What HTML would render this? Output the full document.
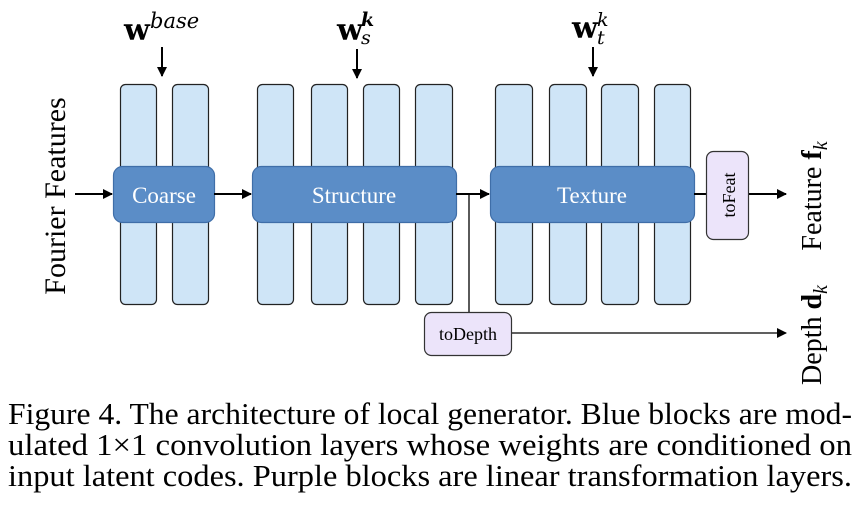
<!DOCTYPE html>
<html><head><meta charset="utf-8"><style>
html,body{margin:0;padding:0;background:#fff;}
svg{display:block;}
</style></head><body>
<svg width="861" height="518" viewBox="0 0 861 518" xmlns="http://www.w3.org/2000/svg" font-family="'Liberation Serif', serif">
<defs>
<marker id="a" markerWidth="10" markerHeight="10" refX="9" refY="5" orient="auto" markerUnits="userSpaceOnUse">
<path d="M0,0 L10,5 L0,10 z" fill="#000"/></marker>
</defs>
<g fill="#cfe5f7" stroke="#222" stroke-width="1.2">
<rect x="120.5" y="84.5" width="36" height="220" rx="5"/>
<rect x="172.5" y="84.5" width="36" height="220" rx="5"/>
<rect x="257.5" y="84.5" width="36" height="220" rx="5"/>
<rect x="311.5" y="84.5" width="36" height="220" rx="5"/>
<rect x="363.5" y="84.5" width="36" height="220" rx="5"/>
<rect x="415.5" y="84.5" width="37" height="220" rx="5"/>
<rect x="495.5" y="84.5" width="37" height="220" rx="5"/>
<rect x="549.5" y="84.5" width="37" height="220" rx="5"/>
<rect x="601.5" y="84.5" width="37" height="220" rx="5"/>
<rect x="654.5" y="84.5" width="36" height="220" rx="5"/>
</g>
<g fill="#5b8dc7" stroke="#3f6ea8" stroke-width="1.2">
<rect x="113.5" y="166.5" width="101" height="56" rx="9"/>
<rect x="252.5" y="166.5" width="204" height="56" rx="9"/>
<rect x="490.5" y="166.5" width="204" height="56" rx="9"/>
</g>
<g fill="#fff" font-size="23" text-anchor="middle" style="font-family:'Liberation Serif',serif">
<text x="164" y="203">Coarse</text>
<text x="354" y="203">Structure</text>
<text x="592" y="203">Texture</text>
</g>
<g stroke="#000" stroke-width="2" fill="none">
<line x1="75" y1="194" x2="112" y2="194" marker-end="url(#a)"/>
<line x1="214" y1="194" x2="251" y2="194" marker-end="url(#a)"/>
<line x1="456" y1="194" x2="489" y2="194" marker-end="url(#a)"/>
<line x1="694" y1="194" x2="706" y2="194"/>
<line x1="748" y1="194" x2="786" y2="194" marker-end="url(#a)"/>
<line x1="162" y1="47" x2="162" y2="76" marker-end="url(#a)"/>
<line x1="357" y1="49" x2="357" y2="78" marker-end="url(#a)"/>
<line x1="593" y1="47" x2="593" y2="76" marker-end="url(#a)"/>
</g>
<g stroke="#000" stroke-width="1.3" fill="none">
<line x1="469" y1="194" x2="469" y2="312"/>
<line x1="511" y1="333" x2="786" y2="333" marker-end="url(#a)"/>
</g>
<g fill="#ece4fa" stroke="#333" stroke-width="1.2">
<rect x="424.5" y="312.5" width="87" height="43" rx="7"/>
<rect x="706.5" y="151.5" width="42" height="88" rx="7"/>
</g>
<g style="font-family:'Liberation Serif',serif">
<text x="468" y="340" font-size="18" text-anchor="middle">toDepth</text>
<text transform="translate(735,195) rotate(-90)" font-size="18" text-anchor="middle">toFeat</text>
<text transform="translate(65,196) rotate(-90)" font-size="30" text-anchor="middle">Fourier Features</text>
<text transform="translate(821,196) rotate(-90)" font-size="28" text-anchor="middle">Feature <tspan font-weight="bold">f</tspan><tspan font-style="italic" font-size="20" dy="6">k</tspan></text>
<text transform="translate(821,335) rotate(-90)" font-size="28" text-anchor="middle">Depth <tspan font-weight="bold">d</tspan><tspan font-style="italic" font-size="20" dy="6">k</tspan></text>
</g>
<g style="font-family:'DejaVu Serif',serif">
<text x="124" y="40" font-size="30" font-weight="bold">w</text>
<text x="150" y="28" font-size="21" font-style="italic">base</text>
<text x="337" y="40" font-size="30" font-weight="bold">w</text>
<text x="361" y="26" font-size="19" font-style="italic" font-weight="bold">k</text>
<text x="361" y="44" font-size="19" font-style="italic">s</text>
<text x="572" y="38" font-size="30" font-weight="bold">w</text>
<text x="597" y="26" font-size="19" font-style="italic">k</text>
<text x="597" y="44" font-size="19" font-style="italic">t</text>
</g>
<g font-size="31" style="font-family:'Liberation Serif',serif">
<text x="8" y="424" textLength="844" lengthAdjust="spacingAndGlyphs">Figure 4. The architecture of local generator. Blue blocks are mod-</text>
<text x="8" y="455" textLength="844" lengthAdjust="spacingAndGlyphs">ulated 1×1 convolution layers whose weights are conditioned on</text>
<text x="8" y="486" textLength="844" lengthAdjust="spacingAndGlyphs">input latent codes. Purple blocks are linear transformation layers.</text>
</g>
</svg>
</body></html>
